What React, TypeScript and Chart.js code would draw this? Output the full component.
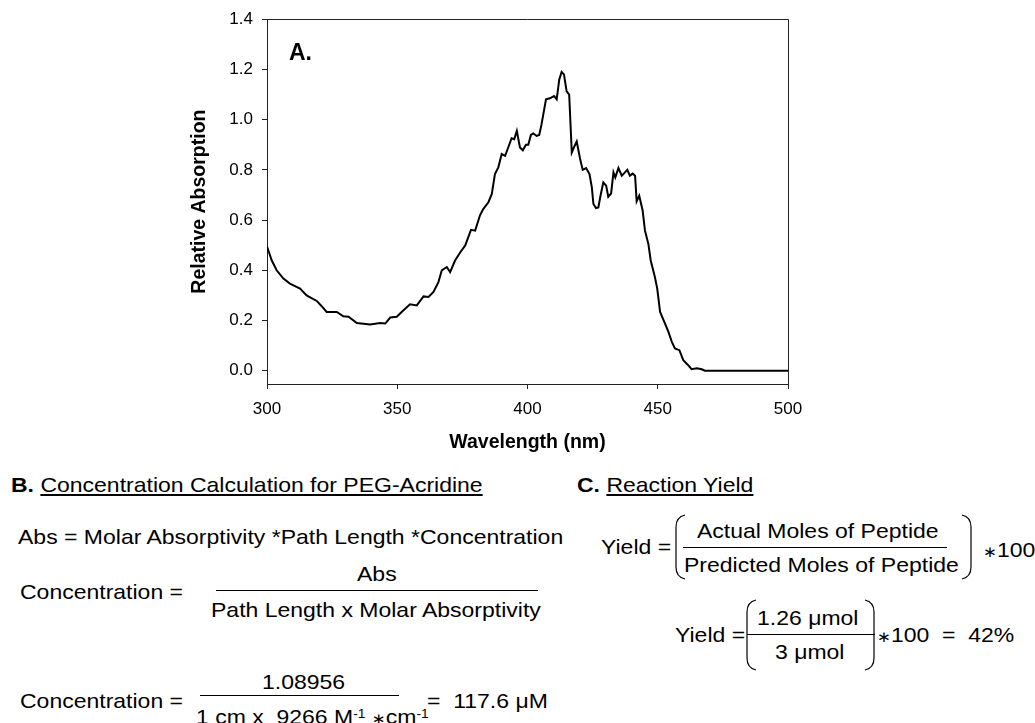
import React, { useEffect, useRef } from 'react';
import { Chart, registerables } from 'chart.js';

Chart.register(...registerables);

// ---------- data ----------
const WAVELENGTH_NM = [
  300.0, 301.8, 303.7, 306.3, 308.8, 312.7, 315.2, 319.1, 321.0, 322.9,
  326.8, 329.3, 331.3, 334.5, 339.6, 343.4, 345.4, 347.3, 349.8, 352.4,
  354.9, 357.5, 360.1, 362.0, 363.9, 365.8, 367.1, 369.0, 370.3, 372.2,
  374.2, 376.1, 378.3, 379.9, 381.8, 383.0, 385.0, 386.3, 387.5, 388.8,
  390.1, 391.4, 392.6, 393.9, 394.9, 395.9, 397.1, 398.2, 399.4, 400.3,
  401.3, 402.2, 403.5, 404.5, 405.4, 407.1, 408.6, 410.2, 411.2, 412.2,
  413.1, 414.0, 415.0, 416.0, 417.0, 417.8, 418.9, 420.2, 421.2, 422.5,
  423.8, 424.7, 425.3, 426.3, 427.2, 428.1, 429.1, 430.2, 431.0, 432.1,
  433.0, 433.7, 434.9, 436.2, 437.4, 438.3, 439.3, 440.4, 441.3, 441.9,
  442.9, 444.2, 445.1, 446.4, 447.3, 448.9, 449.8, 450.9, 452.8, 454.1,
  455.4, 456.6, 458.3, 459.8, 461.4, 463.0, 465.0, 466.9, 468.1, 500.0,
];
const REL_ABSORPTION = [
  0.495, 0.44, 0.40, 0.367, 0.347, 0.327, 0.30, 0.278, 0.257, 0.234,
  0.234, 0.217, 0.215, 0.19, 0.184, 0.19, 0.188, 0.212, 0.215, 0.241,
  0.265, 0.26, 0.296, 0.294, 0.314, 0.353, 0.40, 0.413, 0.393, 0.439,
  0.472, 0.499, 0.561, 0.558, 0.62, 0.644, 0.671, 0.704, 0.783, 0.81,
  0.863, 0.856, 0.889, 0.926, 0.922, 0.955, 0.889, 0.878, 0.90, 0.90,
  0.939, 0.945, 0.935, 0.939, 0.982, 1.081, 1.085, 1.094, 1.081, 1.16,
  1.19, 1.18, 1.114, 1.10, 0.869, 0.889, 0.913, 0.843, 0.80, 0.807,
  0.783, 0.73, 0.664, 0.648, 0.65, 0.701, 0.75, 0.737, 0.693, 0.706,
  0.79, 0.77, 0.807, 0.777, 0.79, 0.80, 0.777, 0.785, 0.777, 0.675,
  0.697, 0.638, 0.558, 0.505, 0.439, 0.373, 0.327, 0.234, 0.188, 0.155,
  0.115, 0.089, 0.082, 0.042, 0.025, 0.006, 0.01, 0.006, 0.0, 0.0,
];
const X_TICKS = [300, 350, 400, 450, 500];
const Y_TICKS = [0, 0.2, 0.4, 0.6, 0.8, 1.0, 1.2, 1.4];
const X_TITLE = 'Wavelength (nm)';
const Y_TITLE = 'Relative Absorption';
const PANEL_LABEL = 'A.';

const FONT = "'Liberation Sans', Arial, Helvetica, 'DejaVu Sans', sans-serif";
const AXIS_COLOR = '#222';

const framePlugin = {
  id: 'frame',
  afterDraw(chart: any) {
    const { ctx, chartArea: a } = chart;
    ctx.save();
    ctx.strokeStyle = AXIS_COLOR;
    ctx.lineWidth = 1;
    const top = Math.round(a.top) + 0.5;
    const right = Math.round(a.right) + 0.5;
    ctx.beginPath();
    ctx.moveTo(a.left, top);
    ctx.lineTo(right, top);
    ctx.lineTo(right, a.bottom);
    ctx.stroke();
    ctx.fillStyle = '#000';
    ctx.font = `bold 23px ${FONT}`;
    ctx.textBaseline = 'alphabetic';
    ctx.textAlign = 'left';
    ctx.fillText(PANEL_LABEL, a.left + 22, a.top + 41);
    ctx.restore();
  },
};

function SpectrumChart() {
  const ref = useRef<HTMLCanvasElement | null>(null);
  useEffect(() => {
    if (!ref.current) return;
    const chart = new Chart(ref.current, {
      type: 'line',
      data: {
        datasets: [
          {
            data: WAVELENGTH_NM.map((x, i) => ({ x, y: REL_ABSORPTION[i] })),
            borderColor: '#000',
            borderWidth: 2,
            pointRadius: 0,
            tension: 0,
            fill: false,
          },
        ],
      },
      options: {
        animation: false,
        responsive: false,
        maintainAspectRatio: false,
        layout: { padding: { left: 187.5, right: 247, top: 18, bottom: 6 } },
        plugins: { legend: { display: false }, tooltip: { enabled: false } },
        scales: {
          x: {
            type: 'linear',
            min: 300,
            max: 500,
            afterBuildTicks: (s: any) => {
              s.ticks = X_TICKS.map((v) => ({ value: v }));
            },
            afterFit: (s: any) => {
              s.height = 70;
            },
            ticks: {
              color: '#000',
              font: { family: FONT, size: 17 },
              padding: 10,
              maxRotation: 0,
              autoSkip: false,
              callback: (v: any) => String(v),
            },
            grid: { drawOnChartArea: false, drawTicks: true, tickLength: 5, color: AXIS_COLOR },
            border: { display: true, color: AXIS_COLOR, width: 1 },
            title: {
              display: true,
              text: X_TITLE,
              color: '#000',
              font: { family: FONT, size: 19.5, weight: 'bold' },
              padding: 0,
            },
          },
          y: {
            type: 'linear',
            min: -0.0528,
            max: 1.4,
            afterBuildTicks: (s: any) => {
              s.ticks = Y_TICKS.map((v) => ({ value: v }));
            },
            afterFit: (s: any) => {
              s.width = 79.5;
            },
            ticks: {
              color: '#000',
              font: { family: FONT, size: 17 },
              padding: 9,
              autoSkip: false,
              callback: (v: any) => Number(v).toFixed(1),
            },
            grid: { drawOnChartArea: false, drawTicks: true, tickLength: 5, color: AXIS_COLOR },
            border: { display: true, color: AXIS_COLOR, width: 1 },
            title: {
              display: true,
              text: Y_TITLE,
              color: '#000',
              font: { family: FONT, size: 19.5, weight: 'bold' },
              padding: 0,
            },
          },
        },
      } as any,
      plugins: [framePlugin],
    });
    return () => chart.destroy();
  }, []);
  return (
    <canvas
      ref={ref}
      width={1035}
      height={460}
      style={{ position: 'absolute', left: 0, top: 0, width: 1035, height: 460 }}
    />
  );
}

// ---------- text panels ----------
const TXT: React.CSSProperties = {
  position: 'absolute',
  fontFamily: FONT,
  fontSize: 21,
  lineHeight: '21px',
  whiteSpace: 'pre',
  color: '#000',
  transform: 'scaleX(1.095)',
  transformOrigin: 'left center',
};

function T({ x, cy, children }: { x: number; cy: number; children: React.ReactNode }) {
  return <div style={{ ...TXT, left: x, top: cy - 10.3 }}>{children}</div>;
}

function Bar({ x1, x2, y }: { x1: number; x2: number; y: number }) {
  return (
    <div style={{ position: 'absolute', left: x1, top: y, width: x2 - x1, height: 1, background: '#000' }} />
  );
}

const SUP: React.CSSProperties = { fontSize: '0.6em', verticalAlign: '0.5em', lineHeight: 0 };
const AST: React.CSSProperties = { fontSize: '0.72em', fontFamily: "'DejaVu Sans', sans-serif" };

function Ast() {
  return <span style={AST}>∗</span>;
}

function lParen(x0: number, t: number, b: number) {
  const w = 9, r = 12;
  return `M ${x0 + w} ${t} Q ${x0} ${t + 2} ${x0} ${t + r} L ${x0} ${b - r} Q ${x0} ${b - 2} ${x0 + w} ${b}`;
}
function rParen(x1: number, t: number, b: number) {
  const w = 9, r = 12;
  return `M ${x1 - w} ${t} Q ${x1} ${t + 2} ${x1} ${t + r} L ${x1} ${b - r} Q ${x1} ${b - 2} ${x1 - w} ${b}`;
}

export default function App() {
  return (
    <div
      style={{
        position: 'absolute',
        left: 0,
        top: 0,
        width: 1035,
        height: 723,
        overflow: 'hidden',
        background: '#fff',
      }}
    >
      <SpectrumChart />

      {/* Section B */}
      <T x={11} cy={484}>
        <b>B.</b> <u>Concentration Calculation for PEG-Acridine</u>
      </T>
      <T x={18} cy={536}>Abs = Molar Absorptivity *Path Length *Concentration</T>

      <T x={20} cy={591}>Concentration =</T>
      <T x={357} cy={573}>Abs</T>
      <Bar x1={216} x2={538} y={590} />
      <T x={211} cy={609}>Path Length x Molar Absorptivity</T>

      <T x={20} cy={700}>Concentration =</T>
      <T x={262} cy={681}>1.08956</T>
      <Bar x1={200} x2={399} y={695} />
      <T x={196} cy={716}>
        1 cm x  9266 M<span style={SUP}>-1</span> <Ast />cm<span style={SUP}>-1</span>
      </T>
      <T x={427} cy={700}>=  117.6 μM</T>

      {/* Section C */}
      <T x={577} cy={484}>
        <b>C.</b> <u>Reaction Yield</u>
      </T>

      <T x={601} cy={546}>Yield =</T>
      <T x={697} cy={530}>Actual Moles of Peptide</T>
      <Bar x1={683} x2={947} y={547} />
      <T x={684} cy={564}>Predicted Moles of Peptide</T>
      <T x={983} cy={549}>
        <Ast />100
      </T>

      <T x={675} cy={634}>Yield =</T>
      <T x={757} cy={617}>1.26 μmol</T>
      <Bar x1={747} x2={875} y={634} />
      <T x={775} cy={651}>3 μmol</T>
      <T x={877} cy={634}>
        <Ast />100  =  42%
      </T>

      <svg
        width={1035}
        height={723}
        style={{ position: 'absolute', left: 0, top: 0, pointerEvents: 'none' }}
      >
        <g fill="none" stroke="#000" strokeWidth={1.2}>
          <path d={lParen(676, 515, 579)} />
          <path d={rParen(971, 515, 579)} />
          <path d={lParen(747, 600, 670)} />
          <path d={rParen(874, 600, 670)} />
        </g>
      </svg>
    </div>
  );
}
